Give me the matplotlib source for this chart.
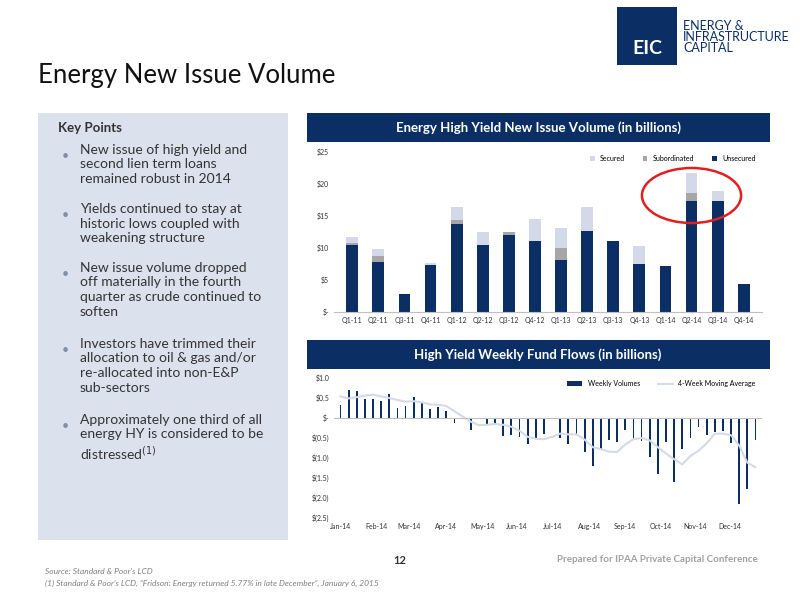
import numpy as np
import matplotlib.pyplot as plt
from matplotlib.patches import Rectangle, Ellipse

plt.rcParams['font.family'] = ['Lato', 'DejaVu Sans']

quarters = ['Q1-11', 'Q2-11', 'Q3-11', 'Q4-11', 'Q1-12', 'Q2-12', 'Q3-12', 'Q4-12',
            'Q1-13', 'Q2-13', 'Q3-13', 'Q4-13', 'Q1-14', 'Q2-14', 'Q3-14', 'Q4-14']
unsecured = [10.45, 7.75, 2.85, 7.3, 13.7, 10.4, 12.0, 11.15, 8.1, 12.6, 11.1, 7.55, 7.2, 17.4, 17.3, 4.4]
subordinated = [0.35, 0.95, 0, 0, 0.6, 0.1, 0.5, 0, 1.95, 0, 0, 0, 0, 1.15, 0, 0]
secured = [0.95, 1.15, 0, 0.4, 2.1, 2.0, 0, 3.45, 3.05, 3.75, 0, 2.8, 0, 3.1, 1.6, 0]

weekly = [0.32, 0.70, 0.67, 0.47, 0.47, 0.42, 0.60, 0.26, 0.30, 0.52, 0.39, 0.22, 0.27, 0.18,
          -0.13, -0.01, -0.30, -0.02, -0.15, -0.15, -0.45, -0.42, -0.47, -0.66, -0.49, -0.41,
          -0.02, -0.49, -0.65, -0.39, -0.85, -1.21, -0.78, -0.56, -0.61, -0.30, -0.52, -0.58,
          -0.97, -1.41, -0.60, -1.59, -0.78, -0.50, -0.22, -0.43, -0.36, -0.32, -0.62, -2.16,
          -1.78, -0.54]
moving_avg = [0.54, 0.49, 0.52, 0.56, 0.58, 0.54, 0.50, 0.45, 0.41, 0.42, 0.39, 0.34, 0.33, 0.30,
              0.17, 0.04, -0.09, -0.18, -0.17, -0.15, -0.17, -0.22, -0.32, -0.47, -0.52, -0.53,
              -0.47, -0.39, -0.41, -0.41, -0.54, -0.73, -0.78, -0.84, -0.85, -0.66, -0.53, -0.50,
              -0.56, -0.73, -0.89, -1.03, -1.16, -0.95, -0.82, -0.63, -0.39, -0.39, -0.43, -0.69,
              -1.12, -1.23]
months = ['Jan-14', 'Feb-14', 'Mar-14', 'Apr-14', 'May-14', 'Jun-14', 'Jul-14', 'Aug-14',
          'Sep-14', 'Oct-14', 'Nov-14', 'Dec-14']
month_pos = [0, 4.4, 8.4, 13, 17.5, 21.7, 26, 30.6, 35, 39.3, 43.6, 47.9]

navy = '#0b2f64'
sub_c = '#a6a6a6'
sec_c = '#d3d9e8'

fig = plt.figure(figsize=(8, 6), dpi=100)
W, H = 800, 600

def fr(x, y, w, h):
    return [x / W, 1 - (y + h) / H, w / W, h / H]

# slide decorations
fig.text(38 / W, 1 - 75 / H, 'Energy New Issue Volume', fontsize=18.5, color='#111111', va='center')
fig.patches.append(Rectangle((38 / W, 1 - 540 / H), 250 / W, 427 / H, transform=fig.transFigure,
                             facecolor='#dbe2ee', edgecolor='none'))
fig.text(58 / W, 1 - 128 / H, 'Key Points', fontsize=9.5, weight='bold', color='#333333', va='center')
bullets = [('New issue of high yield and\nsecond lien term loans\nremained robust in 2014', 150),
           ('Yields continued to stay at\nhistoric lows coupled with\nweakening structure', 209),
           ('New issue volume dropped\noff materially in the fourth\nquarter as crude continued to\nsoften', 268),
           ('Investors have trimmed their\nallocation to oil & gas and/or\nre-allocated into non-E&P\nsub-sectors', 344),
           ('Approximately one third of all\nenergy HY is considered to be\ndistressed$^{(1)}$', 420)]
for txt, y in bullets:
    fig.text(62 / W, 1 - y / H, '•', fontsize=9, color='#7f8fa8', va='top')
    fig.text(80 / W, 1 - (y - 6) / H, txt, fontsize=10, color='#333333', va='top', linespacing=1.25)

# logo
fig.patches.append(Rectangle((617 / W, 1 - 65 / H), 60 / W, 58 / H, transform=fig.transFigure,
                             facecolor=navy, edgecolor='none'))
fig.text(647 / W, 1 - 48 / H, 'EIC', fontsize=14, weight='bold', color='white', ha='center', va='center')
fig.text(683 / W, 1 - 37 / H, 'ENERGY &\nINFRASTRUCTURE\nCAPITAL', fontsize=9, color=navy, va='center',
         linespacing=0.95)

# headers
for y, t1, t2 in [(113, 'Energy High Yield New Issue Volume ', '(in billions)'),
                  (340, 'High Yield Weekly Fund Flows ', '(in billions)')]:
    fig.patches.append(Rectangle((307 / W, 1 - (y + 29) / H), 463 / W, 29 / H, transform=fig.transFigure,
                                 facecolor=navy, edgecolor='none'))
    a = fig.text(538 / W, 1 - (y + 15) / H, t1 + t2, fontsize=9.5, color='white', ha='center',
                 va='center', weight='bold')

# footer
fig.text(400 / W, 1 - 560 / H, '12', fontsize=8, ha='center', va='center', weight='bold', color='#333333')
fig.text(758 / W, 1 - 560 / H, 'Prepared for IPAA Private Capital Conference', fontsize=7, ha='right',
         va='center', color='#a0a0a0', weight='bold')
fig.text(45 / W, 1 - 572 / H, "Source: Standard & Poor's LCD", fontsize=6, style='italic', color='#808080', va='center')
fig.text(45 / W, 1 - 583 / H, "(1) Standard & Poor's LCD, \u201cFridson: Energy returned 5.77% in late December\u201d, January 6, 2015",
         fontsize=6, style='italic', color='#808080', va='center')

# top chart
ax = fig.add_axes(fr(334, 152, 428, 160))
x = np.arange(len(quarters))
u = np.array(unsecured)
s = np.array(subordinated)
ax.bar(x, secured, 0.45, bottom=u + s, color=sec_c, label='Secured')
ax.bar(x, subordinated, 0.45, bottom=u, color=sub_c, label='Subordinated')
ax.bar(x, unsecured, 0.45, color=navy, label='Unsecured')
ax.set_xlim(-0.7, len(quarters) - 0.3)
ax.set_ylim(0, 25)
ax.set_yticks([0, 5, 10, 15, 20, 25])
ax.set_yticklabels(['$-', '$5', '$10', '$15', '$20', '$25'])
ax.set_xticks(x)
ax.set_xticklabels(quarters)
ax.tick_params(labelsize=5, length=0, colors='#333333')
for sp in ['top', 'right', 'left']:
    ax.spines[sp].set_visible(False)
ax.spines['bottom'].set_color('#bfbfbf')
ax.legend(loc='upper right', ncol=3, fontsize=5, frameon=False, handlelength=0.7, handleheight=0.7,
          columnspacing=2.5, bbox_to_anchor=(1.0, 1.02))
ax.add_patch(Ellipse((13.0, 18.2), 3.8, 8.6, fill=False, edgecolor='#e02020', lw=1.8, clip_on=False))

# bottom chart
ax2 = fig.add_axes(fr(334, 378, 428, 140))
w = np.arange(len(weekly))
bars = ax2.bar(w, weekly, 0.22, color=navy, label='Weekly Volumes')
line, = ax2.plot(w, moving_avg, color='#d5dbe6', lw=1.5, label='4-Week Moving Average')
ax2.axhline(0, color='#bfbfbf', lw=0.8)
ax2.set_ylim(-2.5, 1.0)
ax2.set_xlim(-0.8, len(weekly) - 0.2)
ax2.set_yticks([1.0, 0.5, 0, -0.5, -1.0, -1.5, -2.0, -2.5])
ax2.set_yticklabels(['$1.0', '$0.5', '$-', '$(0.5)', '$(1.0)', '$(1.5)', '$(2.0)', '$(2.5)'])
ax2.set_xticks(month_pos)
ax2.set_xticklabels(months)
ax2.tick_params(labelsize=5, length=0, colors='#333333')
for sp in ax2.spines.values():
    sp.set_visible(False)
ax2.legend([bars, line], ['Weekly Volumes', '4-Week Moving Average'], loc='upper right', ncol=2,
           fontsize=5, frameon=False, handlelength=2.2, columnspacing=2.5, bbox_to_anchor=(1.0, 1.03))

fig.savefig('out.png', dpi=100)
